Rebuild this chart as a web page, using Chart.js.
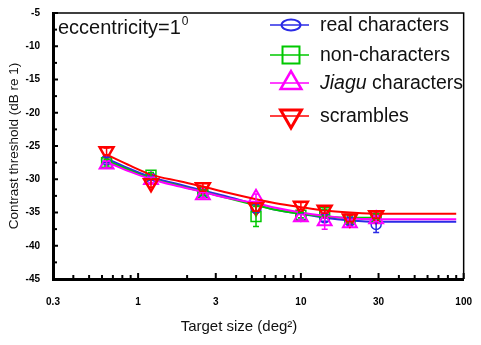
<!DOCTYPE html>
<html lang="en">
<head>
<meta charset="UTF-8">
<title>Contrast threshold vs target size</title>
<script src="https://cdn.jsdelivr.net/npm/chart.js"></script>
<style>
  html, body { margin: 0; padding: 0; background: #fff; }
  #wrap { width: 481px; height: 345px; }
</style>
</head>
<body>
<div id="wrap"><canvas id="chart"></canvas></div>
<script>
// measured target sizes (deg^2)
const sizes = [0.64, 1.2, 2.5, 5.3, 10, 14, 20, 29];
const realVals = [-27.1, -29.8, -32.0, -34.4, -35.6, -35.8, -36.3, -36.8];
const nonVals = [-27.5, -29.4, -32.0, -35.6, -35.4, -35.0, -36.0, -35.6];
const jiaguVals = [-27.8, -30.1, -32.4, -32.8, -35.7, -36.3, -36.6, -36.0];
const scrambleVals = [-25.8, -30.6, -31.2, -34.2, -34.0, -34.6, -35.9, -35.4];

const realErr = [0.4, 0.3, 0.4, 0.6, 0.4, 0.5, 0.5, 1.2];
const nonErr = [0.5, 0.4, 0.4, 1.5, 0.4, 0.5, 0.5, 0.4];
const jiaguErr = [0.5, 0.4, 0.4, 0.6, 0.4, 1.2, 0.5, 0.4];
const scrambleErr = [0.5, 0.6, 0.6, 0.6, 0.5, 0.5, 0.5, 0.5];

// fitted curves
const fitX = [0.64, 0.9, 1.2, 1.8, 2.5, 3.5, 5.3, 7, 10, 14, 20, 30, 60, 90];
const realFit = [-26.9, -28.5, -29.7, -30.8, -31.7, -32.6, -33.8, -34.6, -35.2, -35.8, -36.2, -36.4, -36.4, -36.4];
const nonFit = [-27.2, -28.7, -29.9, -31.0, -31.9, -32.8, -33.9, -34.6, -35.2, -35.6, -35.8, -35.8];
const jiaguFit = [-27.4, -28.9, -30.0, -31.1, -31.9, -32.8, -33.6, -34.3, -35.0, -35.5, -35.9, -36.0, -36.0, -36.0];
const scrambleFit = [-26.3, -28.0, -29.3, -30.3, -31.1, -32.0, -33.0, -33.6, -34.2, -34.7, -35.0, -35.2, -35.2, -35.2];

const xMajor = [0.3, 1, 3, 10, 30, 100];
const xMinor = [0.4, 0.5, 0.6, 0.7, 0.8, 0.9, 2, 4, 5, 6, 7, 8, 9, 20, 40, 50, 60, 70, 80, 90];

const series = [
  { name: 'real characters', color: '#2a2ae6', vals: realVals, err: realErr, fit: realFit, style: 'circle', r: 5, lr: 9, bw: 1.5, order: 4 },
  { name: 'non-characters', color: '#00c800', vals: nonVals, err: nonErr, fit: nonFit, style: 'rect', r: 7, lr: 12, bw: 1.5, order: 3 },
  { name: 'Jiagu characters', color: '#ff00ff', vals: jiaguVals, err: jiaguErr, fit: jiaguFit, style: 'triangle', r: 8, lr: 12, bw: 2, order: 2 },
  { name: 'scrambles', color: '#ff0000', vals: scrambleVals, err: scrambleErr, fit: scrambleFit, style: 'triangle', rot: 180, r: 8, lr: 12, bw: 2.5, order: 1 }
];

const datasets = [];
series.forEach(s => {
  datasets.push({
    label: s.name + ' fit',
    data: s.fit.map((v, i) => ({ x: fitX[i], y: v })),
    showLine: true,
    borderColor: s.color,
    borderWidth: 2,
    pointRadius: 0,
    cubicInterpolationMode: 'monotone',
    order: s.order + 0.5
  });
  datasets.push({
    label: s.name,
    data: s.vals.map((v, i) => ({ x: sizes[i], y: v })),
    showLine: false,
    borderColor: s.color,
    backgroundColor: 'rgba(0,0,0,0)',
    pointStyle: s.style,
    pointRotation: s.rot || 0,
    pointRadius: s.r,
    pointBorderWidth: s.bw,
    order: s.order,
    errs: s.err
  });
});

const frame = {
  id: 'frame',
  afterDatasetsDraw(chart) {
    const ctx = chart.ctx;
    const a = chart.chartArea;
    const xs = chart.scales.x, ys = chart.scales.y;
    ctx.save();
    // error bars
    chart.data.datasets.forEach(ds => {
      if (!ds.errs) return;
      ctx.strokeStyle = ds.borderColor;
      ctx.lineWidth = 1.5;
      ds.data.forEach((p, i) => {
        const px = xs.getPixelForValue(p.x);
        const y1 = ys.getPixelForValue(p.y - ds.errs[i]);
        const y2 = ys.getPixelForValue(p.y + ds.errs[i]);
        ctx.beginPath();
        ctx.moveTo(px, y1); ctx.lineTo(px, y2);
        ctx.moveTo(px - 3, y1); ctx.lineTo(px + 3, y1);
        ctx.moveTo(px - 3, y2); ctx.lineTo(px + 3, y2);
        ctx.stroke();
      });
    });
    // top and right border
    ctx.strokeStyle = '#000';
    ctx.lineWidth = 1.5;
    ctx.beginPath();
    ctx.moveTo(a.left, a.top); ctx.lineTo(a.right, a.top); ctx.lineTo(a.right, a.bottom);
    ctx.stroke();
    // inward ticks
    ctx.lineWidth = 2;
    for (let v = -45; v <= -5; v += 2.5) {
      const py = ys.getPixelForValue(v);
      const len = v % 5 === 0 ? 5 : 4;
      ctx.beginPath(); ctx.moveTo(a.left, py); ctx.lineTo(a.left + len, py); ctx.stroke();
    }
    xMajor.concat(xMinor).forEach(v => {
      const px = xs.getPixelForValue(v);
      const len = xMajor.includes(v) ? 6 : 4;
      ctx.beginPath(); ctx.moveTo(px, a.bottom); ctx.lineTo(px, a.bottom - len); ctx.stroke();
    });
    // x axis title (sits left of the plot centre in the original)
    ctx.fillStyle = '#111';
    ctx.textAlign = 'center';
    ctx.textBaseline = 'middle';
    ctx.font = '15px "Liberation Sans", Arial, sans-serif';
    ctx.fillText('Target size (deg²)', 239, 327);
    ctx.textAlign = 'left';
    // annotation
    ctx.textBaseline = 'alphabetic';
    ctx.font = '20px "Liberation Sans", Arial, sans-serif';
    ctx.fillText('eccentricity=1', 58, 34);
    const w = ctx.measureText('eccentricity=1').width;
    ctx.font = '12px "Liberation Sans", Arial, sans-serif';
    ctx.fillText('0', 58 + w + 1, 25);
    // legend
    const rows = [25, 55, 83, 116];
    series.forEach((s, i) => {
      const y = rows[i];
      ctx.strokeStyle = s.color;
      ctx.fillStyle = 'rgba(0,0,0,0)';
      ctx.lineWidth = 1.5;
      ctx.beginPath(); ctx.moveTo(270, y); ctx.lineTo(309, y); ctx.stroke();
      ctx.lineWidth = s.bw + 0.5;
      if (s.style === 'circle') {
        ctx.beginPath(); ctx.ellipse(291, y, 9.5, 5.5, 0, 0, Math.PI * 2); ctx.stroke();
      } else {
        Chart.helpers.drawPoint(ctx, { pointStyle: s.style, rotation: s.rot || 0, radius: s.lr, borderWidth: s.bw + 0.5 }, 291, y);
      }
      ctx.fillStyle = '#111';
      ctx.textBaseline = 'middle';
      let tx = 320;
      if (s.name.startsWith('Jiagu')) {
        ctx.font = 'italic 19.5px "Liberation Sans", Arial, sans-serif';
        ctx.fillText('Jiagu', tx, y + 1);
        tx += ctx.measureText('Jiagu ').width;
        ctx.font = '19.5px "Liberation Sans", Arial, sans-serif';
        ctx.fillText('characters', tx, y + 1);
      } else {
        ctx.font = '19.5px "Liberation Sans", Arial, sans-serif';
        ctx.fillText(s.name, tx, y + 1);
      }
    });
    ctx.restore();
  }
};

const tickFont = { family: '"Liberation Sans", Arial, sans-serif', size: 10, weight: 'bold' };

new Chart(document.getElementById('chart'), {
  type: 'scatter',
  data: { datasets },
  options: {
    responsive: true,
    maintainAspectRatio: false,
    animation: false,
    layout: { padding: { top: 13, right: 10, left: 0, bottom: 0 } },
    plugins: { legend: { display: false }, tooltip: { enabled: false } },
    scales: {
      x: {
        type: 'logarithmic',
        min: 0.3,
        max: 100,
        afterBuildTicks: sc => { sc.ticks = xMajor.map(v => ({ value: v })); },
        afterFit: sc => { sc.height = 66; },
        grid: { display: false },
        border: { display: true, color: '#000', width: 3 },
        ticks: { color: '#000', font: tickFont, padding: 9, maxRotation: 0, autoSkip: false, callback: v => String(v) },
        title: { display: false }
      },
      y: {
        min: -45,
        max: -5,
        afterFit: sc => { sc.width = 53; },
        grid: { display: false },
        border: { display: true, color: '#000', width: 3 },
        ticks: { stepSize: 5, color: '#000', font: tickFont, padding: 5 },
        title: { display: true, text: 'Contrast threshold (dB re 1)', color: '#111', font: { family: '"Liberation Sans", Arial, sans-serif', size: 13.5 }, padding: { top: 6, bottom: 0 } }
      }
    }
  },
  plugins: [frame]
});
</script>
</body>
</html>
